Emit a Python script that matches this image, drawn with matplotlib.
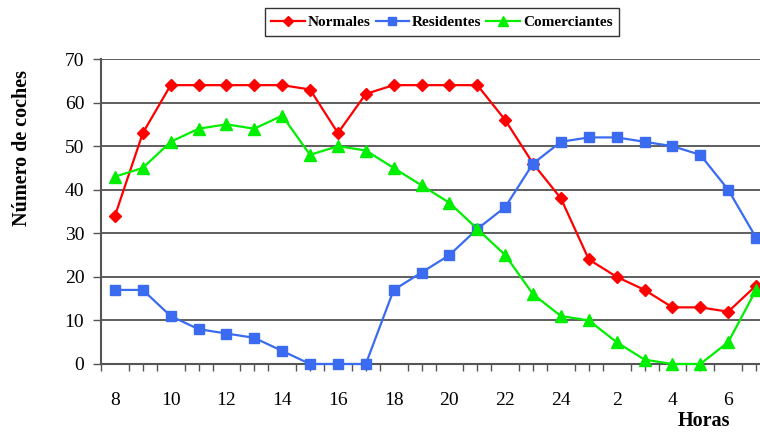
import matplotlib
matplotlib.use("Agg")
import matplotlib.pyplot as plt
import numpy as np

hours = [8, 9, 10, 11, 12, 13, 14, 15, 16, 17, 18, 19, 20, 21, 22, 23, 24,
         1, 2, 3, 4, 5, 6, 7]
normales = [34, 53, 64, 64, 64, 64, 64, 63, 53, 62, 64, 64, 64, 64, 56, 46, 38,
            24, 20, 17, 13, 13, 12, 18]
residentes = [17, 17, 11, 8, 7, 6, 3, 0, 0, 0, 17, 21, 25, 31, 36, 46, 51,
              52, 52, 51, 50, 48, 40, 29]
comerciantes = [43, 45, 51, 54, 55, 54, 57, 48, 50, 49, 45, 41, 37, 31, 25, 16, 11,
                10, 5, 1, 0, 0, 5, 17]

plt.rcParams['font.family'] = ['Liberation Serif', 'DejaVu Serif']

fig = plt.figure(figsize=(7.6, 4.32), dpi=100)
ax = fig.add_axes([101 / 760, 68 / 432, 669 / 760, 305 / 432])

x = np.arange(len(hours))
ax.plot(x, normales, color='#FF0000', marker='D', markersize=6, lw=1.6,
        label='Normales', clip_on=False, zorder=3)
ax.plot(x, residentes, color='#3A6BF0', marker='s', markersize=7, lw=1.6,
        label='Residentes', clip_on=False, zorder=3)
ax.plot(x, comerciantes, color='#00EE00', marker='^', markersize=8, lw=1.6,
        label='Comerciantes', clip_on=False, zorder=3)

ax.set_xlim(-0.5, len(hours) - 0.5)
ax.set_ylim(0, 70)
ax.set_yticks(range(0, 71, 10))
ax.set_xticks(x[::2])
ax.set_xticklabels([str(h) for h in hours[::2]])
ax.set_xticks(np.arange(-0.5, len(hours), 0.5), minor=True)

for yv in range(10, 71, 10):
    ax.axhline(yv, color='#333333', lw=1.1, zorder=1)

for s in ['top', 'right']:
    ax.spines[s].set_visible(False)
ax.spines['left'].set_color('#555555')
ax.spines['bottom'].set_color('#555555')
ax.spines['left'].set_linewidth(1.5)
ax.spines['bottom'].set_linewidth(1.5)

ax.tick_params(axis='y', direction='out', length=6, width=1, color='#555555',
               labelsize=14, pad=6)
ax.tick_params(axis='x', which='major', direction='out', length=0, labelsize=14,
               pad=20)
ax.tick_params(axis='x', which='minor', direction='out', length=5, width=1,
               color='#555555')

fig.text(22 / 760, 1 - 148 / 432, 'Número de coches', fontsize=14.5,
         fontweight='bold', rotation=90, ha='center', va='center')
fig.text(704 / 760, 1 - 421 / 432, 'Horas', fontsize=14.5, fontweight='bold',
         ha='center', va='center')

leg = fig.legend(loc='center', bbox_to_anchor=(442 / 760, 1 - 22 / 432), ncol=3,
                 frameon=True, fancybox=False, edgecolor='black',
                 prop={'weight': 'bold', 'size': 11}, handlelength=2.2,
                 handletextpad=0.2, columnspacing=0.3, borderpad=0.45,
                 borderaxespad=0, markerscale=0.85)
leg.get_frame().set_linewidth(1.0)

fig.savefig('out.png', dpi=100)
